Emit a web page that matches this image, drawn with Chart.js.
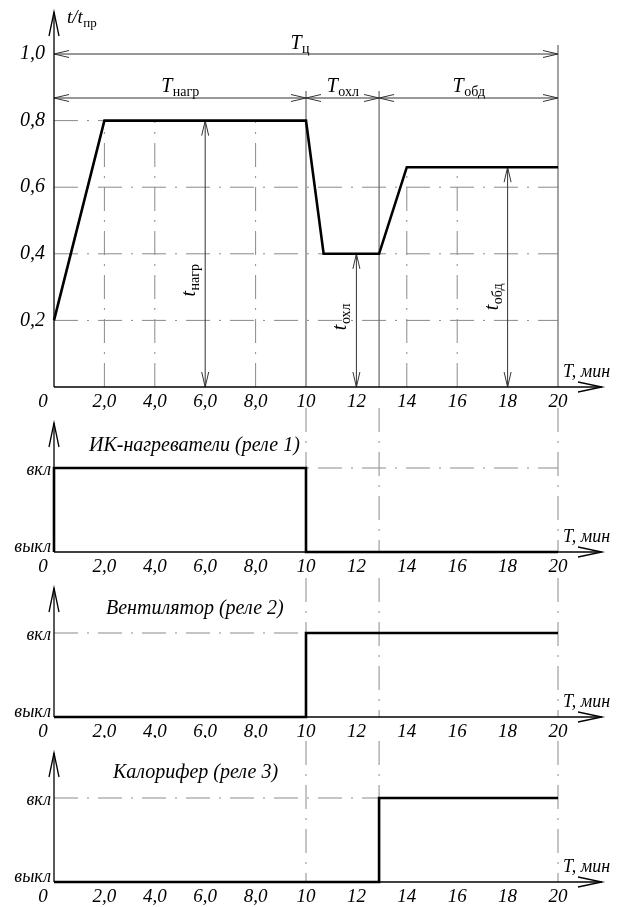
<!DOCTYPE html>
<html>
<head>
<meta charset="utf-8">
<script src="https://cdn.jsdelivr.net/npm/chart.js@4.4.1/dist/chart.umd.min.js"></script>
<style>
  html, body { margin: 0; padding: 0; background: #fff; }
  #sheet { position: relative; width: 618px; height: 907px; overflow: hidden; }
  #sheet canvas { position: absolute; left: 0; }
</style>
</head>
<body>
<div id="sheet">
  <canvas id="profile" width="618" height="412" style="top:0px"></canvas>
  <canvas id="relay1" width="618" height="170" style="top:405px"></canvas>
  <canvas id="relay2" width="618" height="163" style="top:575px"></canvas>
  <canvas id="relay3" width="618" height="169" style="top:738px"></canvas>
</div>
<script>
// ---- time axis ----
const timeTicks = [0, 2, 4, 6, 8, 10, 12, 14, 16, 18, 20];
const timeTickLabels = ['0', '2,0', '4,0', '6,0', '8,0', '10', '12', '14', '16', '18', '20'];

// ---- relative temperature axis ----
const ratioTicks = [0.2, 0.4, 0.6, 0.8, 1.0];
const ratioTickLabels = ['0,2', '0,4', '0,6', '0,8', '1,0'];

// ---- temperature profile t/t_пр over one cycle ----
const profileTime  = [0, 2, 10, 10.7, 12.9, 14, 20];
const profileRatio = [0.2, 0.8, 0.8, 0.4, 0.4, 0.66, 0.66];

// ---- cycle phases (heating, cooling, blowing) ----
const phaseStart = [0, 10, 12.9];
const phaseEnd   = [10, 12.9, 20];
const phaseNames = ['нагр', 'охл', 'обд'];

// ---- temperature levels of each phase ----
const levelTime  = [6, 12, 18];
const levelRatio = [0.8, 0.4, 0.66];
const levelNames = ['нагр', 'охл', 'обд'];
const levelLabelRatio = [0.32, 0.21, 0.27];

// ---- dash-dot grid of the profile panel ----
const gridRatio    = [0.2, 0.4, 0.6, 0.8];
const gridRatioEnd = [20, 20, 20, 10];
const gridTime     = [2, 4, 8, 14, 16];
const gridTimeTop  = [0.8, 0.8, 0.8, 0.66, 0.66];

// ---- relay states ----
const stateTicks  = [0, 1];
const stateLabels = ['выкл', 'вкл'];
const relayNames  = ['ИК-нагреватели (реле 1)', 'Вентилятор (реле 2)', 'Калорифер (реле 3)'];
const relay1Time  = [0, 0, 10, 10, 20];
const relay1State = [0, 1, 1, 0, 0];
const relay2Time  = [0, 10, 10, 20];
const relay2State = [0, 0, 1, 1];
const relay3Time  = [0, 12.9, 12.9, 20];
const relay3State = [0, 0, 1, 1];
const switchTimes = [10, 12.9, 20];

const SERIF = '"Liberation Serif", "Times New Roman", serif';
const GRID = '#8a8a8a';
const DIM = '#333333';
const DASHDOT = [24, 9, 2, 9];

function seg(ctx, x1, y1, x2, y2) {
  ctx.beginPath(); ctx.moveTo(x1, y1); ctx.lineTo(x2, y2); ctx.stroke();
}
// open "V" arrowhead with its tip at (tx, ty) pointing along (dx, dy)
function head(ctx, tx, ty, dx, dy, len, half) {
  const bx = tx - dx * len, by = ty - dy * len;
  const nx = -dy, ny = dx;
  ctx.beginPath();
  ctx.moveTo(bx + nx * half, by + ny * half);
  ctx.lineTo(tx, ty);
  ctx.lineTo(bx - nx * half, by - ny * half);
  ctx.stroke();
}
// italic symbol with an upright subscript
function subText(ctx, main, sub, x, y, size, align) {
  const fMain = `italic ${size}px ${SERIF}`;
  const fSub = `${Math.round(size * 0.68)}px ${SERIF}`;
  ctx.font = fMain; const w1 = ctx.measureText(main).width;
  ctx.font = fSub;  const w2 = ctx.measureText(sub).width;
  const x0 = align === 'center' ? x - (w1 + w2) / 2 : x;
  ctx.textAlign = 'left'; ctx.textBaseline = 'alphabetic';
  ctx.font = fMain; ctx.fillText(main, x0, y);
  ctx.font = fSub;  ctx.fillText(sub, x0 + w1 + 0.5, y + size * 0.2);
}

// axes with arrows and time tick labels, common to every panel
function drawAxes(chart, yTip) {
  const ctx = chart.ctx, a = chart.chartArea;
  const xs = chart.scales.x;
  ctx.save();
  ctx.strokeStyle = '#000'; ctx.lineWidth = 1.3; ctx.setLineDash([]);
  seg(ctx, a.left, yTip, a.left, a.bottom);
  head(ctx, a.left, yTip, 0, -1, 24, 5);
  seg(ctx, a.left, a.bottom, 602, a.bottom);
  head(ctx, 602, a.bottom, 1, 0, 24, 5);

  ctx.fillStyle = '#000';
  ctx.font = `italic 19px ${SERIF}`;
  ctx.textAlign = 'center'; ctx.textBaseline = 'middle';
  timeTicks.forEach((t, i) => {
    let x = xs.getPixelForValue(t);
    if (t === 0) x -= 11;
    ctx.fillText(timeTickLabels[i], x, a.bottom + 15);
  });
  ctx.font = `italic 18px ${SERIF}`;
  ctx.textAlign = 'left'; ctx.textBaseline = 'alphabetic';
  ctx.fillText('T, мин', 563, a.bottom - 10);
  ctx.restore();
}

const baseDataset = {
  borderColor: '#000', borderWidth: 2.6, pointRadius: 0, fill: false,
  tension: 0, clip: false, borderJoinStyle: 'miter', borderCapStyle: 'butt'
};

function makeChart(id, datasets, yMax, padding, plugin) {
  return new Chart(document.getElementById(id), {
    type: 'line',
    data: { datasets },
    options: {
      responsive: false, animation: false, events: [],
      layout: { padding },
      plugins: { legend: { display: false }, tooltip: { enabled: false } },
      scales: {
        x: { type: 'linear', min: 0, max: 20, display: false },
        y: { type: 'linear', min: 0, max: yMax, display: false }
      }
    },
    plugins: [plugin]
  });
}

// ---------- temperature profile ----------
const profilePlugin = {
  id: 'profileDrawing',
  beforeDatasetsDraw(chart) {
    const ctx = chart.ctx, a = chart.chartArea;
    const X = v => chart.scales.x.getPixelForValue(v);
    const Y = v => chart.scales.y.getPixelForValue(v);
    ctx.save();
    // dash-dot grid
    ctx.strokeStyle = GRID; ctx.lineWidth = 1; ctx.setLineDash(DASHDOT);
    gridRatio.forEach((r, i) => seg(ctx, X(0), Y(r), X(gridRatioEnd[i]), Y(r)));
    gridTime.forEach((t, i) => seg(ctx, X(t), Y(0), X(t), Y(gridTimeTop[i])));
    ctx.setLineDash([]);

    // phase boundaries
    ctx.strokeStyle = '#666'; ctx.lineWidth = 1.2;
    const phaseY = a.top + 44;
    phaseEnd.forEach(t => {
      const top = t === 20 ? a.top - 9 : phaseY - 7;
      seg(ctx, X(t), top, X(t), Y(0));
    });

    // cycle and phase durations
    ctx.strokeStyle = DIM; ctx.lineWidth = 1;
    seg(ctx, X(0), Y(1), X(20), Y(1));
    head(ctx, X(0), Y(1), -1, 0, 15, 3.5);
    head(ctx, X(20), Y(1), 1, 0, 15, 3.5);
    phaseStart.forEach((s, i) => {
      const e = phaseEnd[i];
      seg(ctx, X(s), phaseY, X(e), phaseY);
      head(ctx, X(s), phaseY, -1, 0, 15, 3.5);
      head(ctx, X(e), phaseY, 1, 0, 15, 3.5);
    });

    // temperature levels
    levelTime.forEach((t, i) => {
      seg(ctx, X(t), Y(levelRatio[i]), X(t), Y(0));
      head(ctx, X(t), Y(levelRatio[i]), 0, -1, 15, 3.5);
      head(ctx, X(t), Y(0), 0, 1, 15, 3.5);
    });
    ctx.restore();
  },
  afterDatasetsDraw(chart) {
    const ctx = chart.ctx, a = chart.chartArea;
    const X = v => chart.scales.x.getPixelForValue(v);
    const Y = v => chart.scales.y.getPixelForValue(v);
    drawAxes(chart, 12);
    ctx.save();
    ctx.fillStyle = '#000';
    // ratio tick labels
    ctx.font = `italic 20px ${SERIF}`;
    ctx.textAlign = 'right'; ctx.textBaseline = 'middle';
    ratioTicks.forEach((r, i) => ctx.fillText(ratioTickLabels[i], a.left - 9, Y(r)));
    // axis title t/t_пр
    subText(ctx, 't/t', 'пр', 67, 23, 19, 'left');
    // duration labels
    subText(ctx, 'T', 'ц', X(9.75), Y(1) - 5, 20, 'center');
    const phaseY = a.top + 44;
    phaseStart.forEach((s, i) => {
      subText(ctx, 'T', phaseNames[i], (X(s) + X(phaseEnd[i])) / 2, phaseY - 6, 20, 'center');
    });
    // level labels, rotated along the arrows
    levelTime.forEach((t, i) => {
      ctx.save();
      ctx.translate(X(t) - 10, Y(levelLabelRatio[i]));
      ctx.rotate(-Math.PI / 2);
      subText(ctx, 't', levelNames[i], 0, 0, 20, 'center');
      ctx.restore();
    });
    ctx.restore();
  }
};

makeChart('profile', [{
  ...baseDataset,
  data: profileTime.map((t, i) => ({ x: t, y: profileRatio[i] }))
}], 1.0, { left: 54, right: 60, top: 54, bottom: 25 }, profilePlugin);

// ---------- relay panels ----------
function relayPlugin(name, titleX, titleRise, yTip) {
  return {
    id: 'relayDrawing',
    beforeDatasetsDraw(chart) {
      const ctx = chart.ctx;
      const X = v => chart.scales.x.getPixelForValue(v);
      const Y = v => chart.scales.y.getPixelForValue(v);
      ctx.save();
      ctx.strokeStyle = GRID; ctx.lineWidth = 1; ctx.setLineDash(DASHDOT);
      seg(ctx, X(0), Y(1), X(20), Y(1));
      switchTimes.forEach(t => seg(ctx, X(t), 3, X(t), Y(0)));
      ctx.restore();
    },
    afterDatasetsDraw(chart) {
      const ctx = chart.ctx, a = chart.chartArea;
      const Y = v => chart.scales.y.getPixelForValue(v);
      drawAxes(chart, yTip);
      ctx.save();
      ctx.fillStyle = '#000';
      ctx.font = `italic 18px ${SERIF}`;
      ctx.textAlign = 'right'; ctx.textBaseline = 'middle';
      stateTicks.forEach((s, i) => {
        ctx.fillText(stateLabels[i], a.left - 3, Y(s) + (s === 0 ? -5 : 2));
      });
      ctx.font = `italic 20px ${SERIF}`;
      ctx.textAlign = 'left'; ctx.textBaseline = 'alphabetic';
      ctx.fillText(name, titleX, Y(1) - titleRise);
      ctx.restore();
    }
  };
}

function relayData(times, states) {
  return [{ ...baseDataset, data: times.map((t, i) => ({ x: t, y: states[i] })) }];
}

makeChart('relay1', relayData(relay1Time, relay1State), 1,
  { left: 54, right: 60, top: 63, bottom: 23 }, relayPlugin(relayNames[0], 89, 17, 18));
makeChart('relay2', relayData(relay2Time, relay2State), 1,
  { left: 54, right: 60, top: 58, bottom: 21 }, relayPlugin(relayNames[1], 106, 19, 13));
makeChart('relay3', relayData(relay3Time, relay3State), 1,
  { left: 54, right: 60, top: 60, bottom: 25 }, relayPlugin(relayNames[2], 113, 20, 15));
</script>
</body>
</html>
